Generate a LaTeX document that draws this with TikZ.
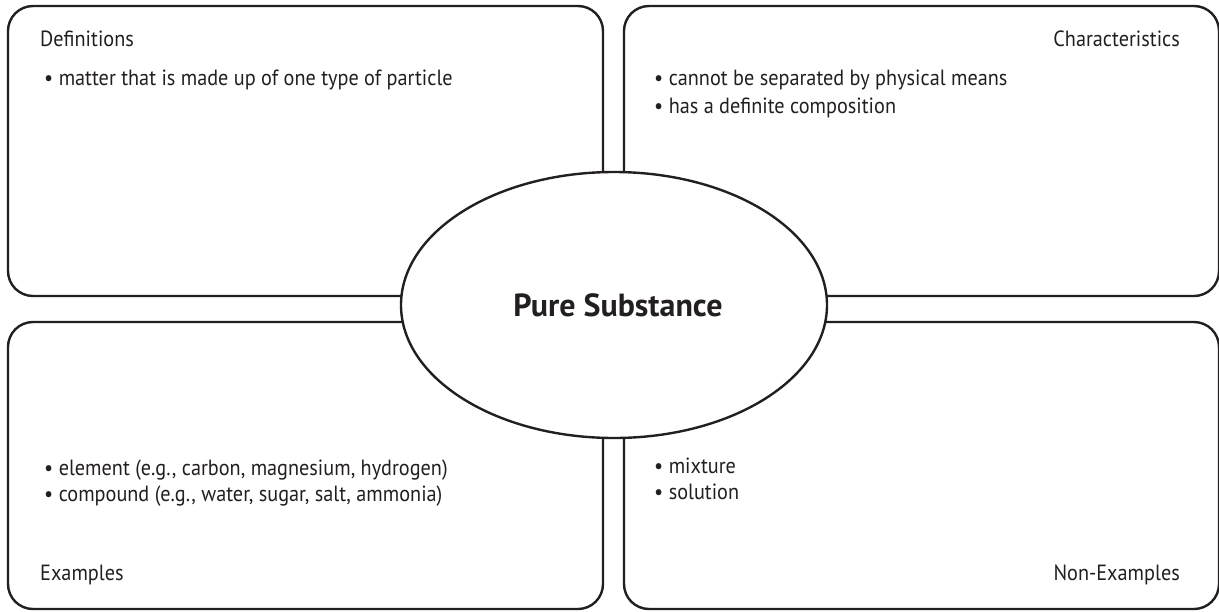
\documentclass[tikz,border=0pt]{standalone}
\usepackage{fontspec}
\setmainfont{PT Sans}
\usetikzlibrary{shapes.geometric}
\definecolor{ink}{HTML}{231F20}
\tikzset{
  panel/.style={draw=ink, line width=2.4pt, rounded corners=25pt, minimum width=595pt, minimum height=290pt, inner sep=0pt},
  centre/.style={draw=ink, line width=2.4pt, fill=white, ellipse, minimum width=426pt, minimum height=266pt, inner sep=0pt},
  txt/.style={font=\fontsize{22}{26}\selectfont\addfontfeature{FakeStretch=0.92}, text=ink, inner sep=0pt},
  title/.style={font=\fontsize{32}{38}\selectfont\bfseries, text=ink, inner sep=0pt}
}
\begin{document}
\begin{tikzpicture}[x=1pt,y=-1pt]
\useasboundingbox (0,0) rectangle (1219,611);
\node[panel] (def) at (305.5,151) {};
\node[panel] (cha) at (921.5,151) {};
\node[panel, minimum height=287pt] (exa) at (305.5,465.5) {};
\node[panel, minimum height=287pt] (non) at (921.5,465.5) {};
\node[centre] (ps) at (614,305) {};
\node[title, anchor=base] (pst) at (618,316) {Pure Substance};
\node[txt, anchor=base west] (defh) at (40,46) {Definitions};
\node[txt, anchor=base west] (def1) at (44,85) {• matter that is made up of one type of particle};
\node[txt, anchor=base east] (chah) at (1180,46) {Characteristics};
\node[txt, anchor=base west] (cha1) at (654,85) {• cannot be separated by physical means};
\node[txt, anchor=base west] (cha2) at (654,113) {• has a definite composition};
\node[txt, anchor=base west] (exa1) at (44,475) {• element (e.g., carbon, magnesium, hydrogen)};
\node[txt, anchor=base west] (exa2) at (44,501) {• compound (e.g., water, sugar, salt, ammonia)};
\node[txt, anchor=base west] (exah) at (40,580) {Examples};
\node[txt, anchor=base west] (non1) at (654,473) {• mixture};
\node[txt, anchor=base west] (non2) at (654,499) {• solution};
\node[txt, anchor=base east] (nonh) at (1180,580) {Non-Examples};
\end{tikzpicture}
\end{document}
